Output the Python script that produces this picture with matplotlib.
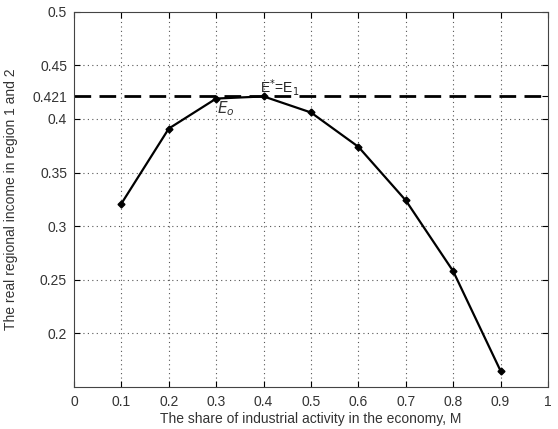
import numpy as np
import matplotlib.pyplot as plt

# values
share = [0.1, 0.2, 0.3, 0.4, 0.5, 0.6, 0.7, 0.8, 0.9]
income = [0.321, 0.391, 0.419, 0.421, 0.406, 0.374, 0.324, 0.258, 0.165]
e_star = 0.421

x_ticks = [0, 0.1, 0.2, 0.3, 0.4, 0.5, 0.6, 0.7, 0.8, 0.9, 1]
x_labels = ['0', '0.1', '0.2', '0.3', '0.4', '0.5', '0.6', '0.7', '0.8', '0.9', '1']
y_ticks = [0.2, 0.25, 0.3, 0.35, 0.4, 0.421, 0.45, 0.5]
y_labels = ['0.2', '0.25', '0.3', '0.35', '0.4', '0.421', '0.45', '0.5']

plt.rcParams['font.family'] = ['Liberation Sans', 'DejaVu Sans']
txt = '#333333'

fig = plt.figure(figsize=(5.58, 4.29), dpi=100)
ax = fig.add_axes([0.1326, 0.098, 0.8494, 0.8747])

ax.plot(share, income, '-D', color='black', lw=1.6, ms=3.5)
ax.axhline(e_star, color='black', lw=2.0, linestyle=(0, (6, 3)))

ax.set_xlim(0, 1)
ax.set_ylim(0.15, 0.5)
ax.set_xticks(x_ticks)
ax.set_xticklabels(x_labels)
ax.set_yticks(y_ticks)
ax.set_yticklabels(y_labels)

# dotted grid, skipping the 0.421 level
for x in x_ticks[1:-1]:
    ax.axvline(x, color='#555555', lw=0.8, linestyle=(0, (1, 3)), zorder=0)
for y in [0.2, 0.25, 0.3, 0.35, 0.4, 0.45]:
    ax.axhline(y, color='#555555', lw=0.8, linestyle=(0, (1, 3)), zorder=0)

ax.tick_params(direction='in', top=True, right=True, labelsize=10,
               labelcolor=txt, length=4)
ax.tick_params(axis='x', pad=6)
ax.tick_params(axis='y', pad=5)
for s in ax.spines.values():
    s.set_color('#444444')

ax.text(0.392, 0.4245, r'E$^{*}$=E$_1$', fontsize=10, color='#222222')
ax.text(0.302, 0.4055, r'$E_o$', fontsize=11, color='#333333',
        fontfamily='DejaVu Serif')

ax.set_xlabel('The share of industrial activity in the economy, M',
              fontsize=10, color=txt, labelpad=2)
ax.set_ylabel('The real regional income in region 1 and 2',
              fontsize=10, color=txt, labelpad=10)

fig.savefig('out.png', dpi=100)
